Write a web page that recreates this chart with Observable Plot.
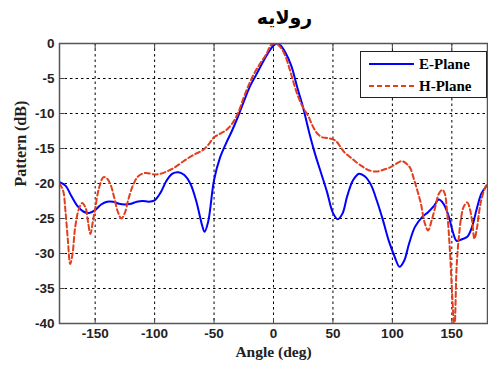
<!DOCTYPE html>
<html><head><meta charset="utf-8">
<script src="https://cdn.jsdelivr.net/npm/d3@7"></script>
<script src="https://cdn.jsdelivr.net/npm/@observablehq/plot@0.6"></script>
<style>
body{margin:0;background:#fff;}
#wrap{position:relative;width:488px;height:365px;overflow:hidden;}
#legend{position:absolute;left:360px;top:51px;width:125px;height:45px;border:1px solid #222;background:#fff;
 font-family:"Liberation Serif",serif;font-weight:bold;font-size:15px;}
#legend .row{position:absolute;left:8px;height:20px;display:flex;align-items:center;}
#legend .row span{margin-left:5px;}
</style></head><body>
<div id="wrap"><div id="legend"></div></div>
<script>
const title = "رولایه";
const xLabel = "Angle (deg)";
const yLabel = "Pattern (dB)";
const seriesNames = ["E-Plane", "H-Plane"];
const xTicks = [-150, -100, -50, 0, 50, 100, 150];
const yTicks = [0, -5, -10, -15, -20, -25, -30, -35, -40];

const eAngle = [-180,-175,-170,-165,-160,-155,-150,-145,-140,-135,-130,-125,-120,-115,-110,-105,-100,-95,-90,-85,-80,-75,-70,-65,-60,-58,-55,-50,-45,-40,-35,-30,-25,-20,-15,-10,-5,0,3,6,10,15,20,25,30,35,40,45,50,54,58,62,67,72,77,82,87,92,97,102,106,110,114,119,125,130,135,139,143,147,151,154,158,163,167,171,175,180];
const eDb = [-19.8,-20.3,-21.8,-23.2,-24.0,-24.2,-23.8,-23.0,-22.6,-22.6,-22.9,-23.0,-22.9,-22.6,-22.5,-22.6,-22.4,-21.3,-19.6,-18.6,-18.4,-18.8,-20.0,-22.5,-26.0,-26.9,-25.5,-19.5,-16.3,-14.3,-12.5,-10.5,-8.3,-6.2,-4.6,-3.0,-1.5,-0.3,0,-0.3,-1.3,-3.2,-6.3,-9.2,-12.7,-15.8,-18.5,-21.2,-24.2,-25.1,-24.3,-21.8,-19.5,-18.6,-19.0,-20.2,-22.5,-25.2,-28.2,-30.5,-31.9,-31.0,-28.6,-26.2,-24.8,-24.1,-23.2,-22.3,-22.9,-24.5,-27.0,-28.2,-28.0,-27.6,-26.2,-23.6,-21.4,-20.2];

const hAngle = [-180,-177,-175,-173,-171,-169,-167,-164,-161,-158,-156,-154,-152,-150,-147,-143,-140,-137,-134,-131,-128,-125,-122,-118,-114,-108,-100,-95,-90,-84,-78,-72,-66,-60,-55,-50,-44,-40,-35,-30,-25,-20,-16,-11,-6,-2,1,4,7,10,14,18,21,25,29,33,37,41,45,50,53,56,60,65,70,75,80,87,93,98,103,108,112,115,118,121,124,127,130,133,136,139,142,144,146,148,150,151.5,152,153,154,156,158,160,163,165,167,169,171,173,175,178,180];
const hDb = [-20.0,-21.0,-23.9,-28.0,-31.5,-30.0,-26.5,-23.8,-22.8,-23.5,-25.5,-27.2,-25.5,-23.6,-20.8,-19.1,-19.3,-20.2,-22.0,-24.0,-25.0,-24.2,-22.2,-20.2,-19.0,-18.5,-18.7,-18.6,-18.3,-17.8,-17.1,-16.4,-15.8,-15.3,-14.5,-13.4,-12.8,-12.4,-11.5,-10.0,-7.7,-5.6,-4.2,-2.8,-1.5,-0.2,0,-0.2,-0.8,-1.8,-3.9,-6.2,-7.7,-9.2,-10.3,-11.8,-12.9,-13.4,-13.5,-13.7,-14.0,-14.7,-15.6,-16.3,-17.0,-17.6,-18.1,-18.3,-18.0,-17.7,-17.2,-16.8,-17.2,-17.8,-19.3,-21.0,-22.9,-25.5,-26.7,-25.3,-23.4,-21.5,-20.9,-21.4,-24.0,-28.5,-35,-40,-44,-38,-32,-27.5,-24.7,-23.3,-22.7,-23.5,-25.3,-27.9,-26.5,-24.0,-22.2,-20.6,-20.0];

const colors = ["#0000ff", "#e33d1c"];
const e = eAngle.map((a,i)=>({a, v:eDb[i]}));
const h = hAngle.map((a,i)=>({a, v:hDb[i]}));
const tickFont = "Liberation Sans, Arial, sans-serif";
const serif = "Liberation Serif, Times New Roman, serif";

const chart = Plot.plot({
  width: 488, height: 365,
  marginLeft: 59, marginRight: 1, marginTop: 43, marginBottom: 42,
  x: {domain: [-180, 180]},
  y: {domain: [-40, 0]},
  style: {background: "transparent"},
  marks: [
    Plot.gridX(xTicks, {stroke: "#000", strokeOpacity: 1, strokeWidth: 1, strokeDasharray: "2.5,3"}),
    Plot.gridY(yTicks.slice(1, -1), {stroke: "#000", strokeOpacity: 1, strokeWidth: 1, strokeDasharray: "2.5,3"}),
    Plot.axisX({anchor: "bottom", ticks: xTicks, tickSize: -5, tickFormat: () => "", label: null, stroke: "#444"}),
    Plot.axisX({anchor: "top", ticks: xTicks, tickSize: -5, tickFormat: () => "", label: null, stroke: "#444"}),
    Plot.axisY({anchor: "left", ticks: yTicks, tickSize: -5, tickFormat: () => "", label: null, stroke: "#444"}),
    Plot.axisX({anchor: "bottom", ticks: xTicks, tickSize: 0, tickPadding: 5, tickFormat: d => String(d), label: null,
      fontSize: 13.5, fontWeight: "bold", fontFamily: tickFont, fill: "#222"}),
    Plot.axisY({anchor: "left", ticks: yTicks, tickSize: 0, tickPadding: 5, tickFormat: d => String(d), label: null,
      fontSize: 13.5, fontWeight: "bold", fontFamily: tickFont, fill: "#222"}),
    Plot.line(e, {x: "a", y: "v", stroke: colors[0], strokeWidth: 2, curve: "catmull-rom", clip: true}),
    Plot.line(h, {x: "a", y: "v", stroke: colors[1], strokeWidth: 2, strokeDasharray: "5,3", curve: "catmull-rom", clip: true}),
    Plot.frame({stroke: "#555", strokeWidth: 1.5}),
    Plot.text([title], {text: d => d, frameAnchor: "top", dy: -33, dx: 11, fontSize: 19, fontWeight: "bold", fontFamily: "DejaVu Sans, sans-serif", fill: "#000"}),
    Plot.text([xLabel], {text: d => d, frameAnchor: "bottom", dy: 33, fontSize: 15.5, fontWeight: "bold", fontFamily: serif, fill: "#222"}),
    Plot.text([yLabel], {text: d => d, frameAnchor: "left", dx: -39, dy: 3, rotate: -90, fontSize: 16, fontWeight: "bold", fontFamily: serif, fill: "#222"})
  ]
});
document.getElementById("wrap").prepend(chart);

const lg = document.getElementById("legend");
seriesNames.forEach((name, i) => {
  const row = document.createElement("div");
  row.className = "row";
  row.style.top = (i === 0 ? 2 : 24) + "px";
  row.innerHTML = `<svg width="45" height="6"><line x1="0" y1="3" x2="45" y2="3" stroke="${colors[i]}" stroke-width="2" ${i===1?'stroke-dasharray="5,3"':''}/></svg><span>${name}</span>`;
  lg.appendChild(row);
});
</script>
</body></html>
